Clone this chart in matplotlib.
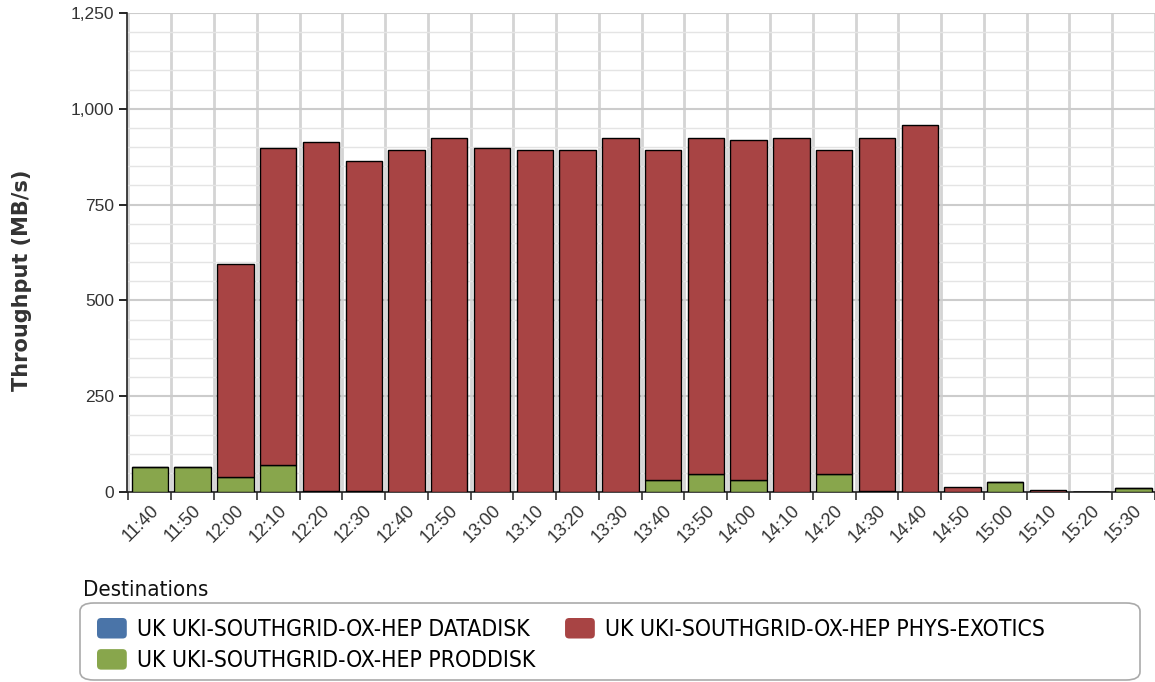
import matplotlib
matplotlib.use("Agg")
import matplotlib.pyplot as plt
from matplotlib.patches import Patch, FancyBboxPatch
from matplotlib.legend_handler import HandlerPatch
from matplotlib.ticker import FuncFormatter, MultipleLocator
import numpy as np

times = ["11:40", "11:50", "12:00", "12:10", "12:20", "12:30", "12:40", "12:50",
         "13:00", "13:10", "13:20", "13:30", "13:40", "13:50", "14:00", "14:10",
         "14:20", "14:30", "14:40", "14:50", "15:00", "15:10", "15:20", "15:30"]
datadisk = [0] * 24
proddisk = [65, 65, 40, 70, 3, 3, 0, 0, 0, 0, 0, 0, 31, 47, 31, 0,
            47, 3, 0, 0, 25, 0, 0, 10]
phys_totals = [65, 65, 595, 898, 913, 864, 893, 924, 898, 893, 893, 924, 893, 924, 919, 924,
               893, 924, 958, 14, 25, 4, 1, 10]
phys_exotics = [max(t - p, 0) for t, p in zip(phys_totals, proddisk)]

labels = ["UK UKI-SOUTHGRID-OX-HEP DATADISK",
          "UK UKI-SOUTHGRID-OX-HEP PRODDISK",
          "UK UKI-SOUTHGRID-OX-HEP PHYS-EXOTICS"]
colors = {"datadisk": "#4a74a8", "proddisk": "#88a64c", "phys": "#a84444"}

fig = plt.figure(figsize=(11.55, 6.82), dpi=100)
ax = fig.add_axes([127/1155, 1-492/682, 1-127/1155, (492-13)/682])

x = np.arange(len(times))
w = 0.85
p = np.array(proddisk)
d = np.array(datadisk)
ax.bar(x, d, w, color=colors["datadisk"], edgecolor="black", linewidth=1, zorder=3)
ax.bar(x, p, w, bottom=d, color=colors["proddisk"], edgecolor="black", linewidth=1, zorder=3)
ax.bar(x, phys_exotics, w, bottom=d + p, color=colors["phys"], edgecolor="black", linewidth=1, zorder=3)

ax.set_xlim(-0.534, 23.34)
ax.set_ylim(0, 1250)

ax.yaxis.set_major_locator(MultipleLocator(250))
ax.yaxis.set_minor_locator(MultipleLocator(50))
ax.yaxis.set_major_formatter(FuncFormatter(lambda v, pos: f"{int(v):,}"))
ax.grid(True, which="major", axis="y", color="#cccccc", linewidth=1.5, zorder=0)
ax.grid(True, which="minor", axis="y", color="#e4e4e4", linewidth=1.0, zorder=0)

ax.set_xticks(x)
ax.set_xticklabels(times, rotation=45, ha="right", rotation_mode="anchor",
                   fontsize=13, color="#333333", family="Liberation Sans")
ax.set_xticks(np.arange(-0.5, 24, 1), minor=True)
ax.tick_params(axis="x", which="major", length=0, pad=7)
ax.tick_params(axis="x", which="minor", length=6, width=1.2, color="#333333")
ax.grid(True, which="minor", axis="x", color="#d4d4d4", linewidth=2, zorder=0)
ax.tick_params(axis="y", which="major", length=6, width=1.2, labelsize=12.5, labelcolor="#333333")
ax.tick_params(axis="y", which="minor", length=0)
for t in ax.get_yticklabels():
    t.set_family("Liberation Sans")

for s in ["top", "right"]:
    ax.spines[s].set_visible(False)
ax.spines["left"].set_linewidth(1.2)
ax.spines["bottom"].set_linewidth(1.2)
ax.spines["left"].set_color("#222222")
ax.spines["bottom"].set_color("#222222")

fig.text(22/1155, 1-280/682, "Throughput (MB/s)", rotation=90, fontsize=15,
         fontweight="bold", color="#333333", ha="center", va="center")

# legend
fig.text(83/1155, 1-590/682, "Destinations", fontsize=16, fontstretch="condensed",
         va="center", ha="left", color="#111111")
box = FancyBboxPatch((80/1155, 1-680/682), (1140-80)/1155, (680-603)/682,
                     boxstyle="round,pad=0,rounding_size=0.012", transform=fig.transFigure,
                     facecolor="white", edgecolor="#aaaaaa", linewidth=1.2)
fig.patches.append(box)


class RoundHandler(HandlerPatch):
    def create_artists(self, legend, orig_handle, xdescent, ydescent, width, height, fontsize, trans):
        pch = FancyBboxPatch((-xdescent, -ydescent), width, height,
                             boxstyle="round,pad=0,rounding_size=3",
                             facecolor=orig_handle.get_facecolor(), edgecolor="none", transform=trans)
        return [pch]


handles = [Patch(facecolor=colors["datadisk"], edgecolor="none"),
           Patch(facecolor=colors["proddisk"], edgecolor="none"),
           Patch(facecolor=colors["phys"], edgecolor="none")]
fig.legend(handles, labels, ncol=2, loc="upper left", bbox_to_anchor=(97/1155, 1-618/682),
           frameon=False, prop={"size": 16.5, "stretch": "condensed"},
           handlelength=1.3, handleheight=1.0, handletextpad=0.44,
           columnspacing=1.3, labelspacing=0.35, borderaxespad=0, borderpad=0,
           handler_map={Patch: RoundHandler()})

fig.savefig("out.png", dpi=100)
